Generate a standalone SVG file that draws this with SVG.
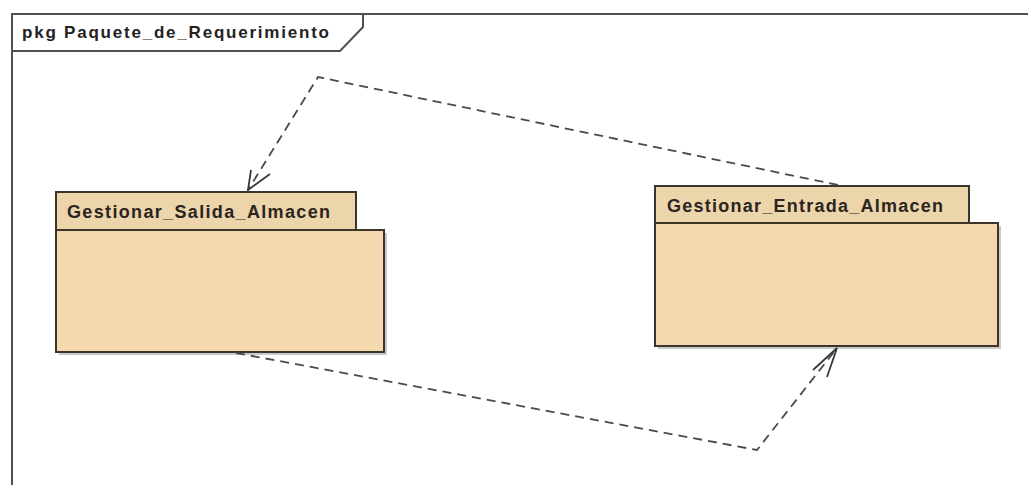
<svg xmlns="http://www.w3.org/2000/svg" width="1028" height="485" viewBox="0 0 1028 485">
  <style>
    .frame { fill: none; stroke: #505050; stroke-width: 2; }
    .title { font-family: "Liberation Sans", Arial, sans-serif; font-size: 17px; font-weight: bold; fill: #222; }
    .tab { fill: #ecd4ab; stroke: #3c3428; stroke-width: 2; }
    .body { fill: #f3d9ad; stroke: #3c3428; stroke-width: 2; }
    .shadow { fill: #8a8a8a; opacity: 0.45; }
    .pkgname { font-family: "Liberation Sans", Arial, sans-serif; font-size: 18px; font-weight: bold; fill: #2a2520; }
    .dep { fill: none; stroke: #4a4a4a; stroke-width: 1.8; stroke-dasharray: 9 6; }
    .head { fill: none; stroke: #3a3a3a; stroke-width: 1.8; }
  </style>

  <rect width="1028" height="485" fill="#ffffff"/>

  <!-- package diagram frame -->
  <g id="frame">
    <path class="frame" d="M12,485 L12,14 L1028,14"/>
    <path class="frame" d="M12,51 L340,51 L363,27 L363,14"/>
    <text class="title" x="22" y="38" textLength="307" lengthAdjust="spacing">pkg Paquete_de_Requerimiento</text>
  </g>

  <!-- package: Gestionar_Salida_Almacen -->
  <g id="pkg-salida">
    <rect class="shadow" x="59" y="233" width="328" height="122"/>
    <rect class="tab" x="56" y="192" width="300" height="38"/>
    <rect class="body" x="56" y="230" width="328" height="122"/>
    <text class="pkgname" x="67" y="218" textLength="263" lengthAdjust="spacing">Gestionar_Salida_Almacen</text>
  </g>

  <!-- package: Gestionar_Entrada_Almacen -->
  <g id="pkg-entrada">
    <rect class="shadow" x="658" y="226" width="343" height="123"/>
    <rect class="tab" x="655" y="186" width="314" height="37"/>
    <rect class="body" x="655" y="223" width="343" height="123"/>
    <text class="pkgname" x="667" y="212" textLength="276" lengthAdjust="spacing">Gestionar_Entrada_Almacen</text>
  </g>

  <!-- dependencies -->
  <g id="connectors">
    <!-- Entrada -> Salida -->
    <polyline class="dep" points="838,185 318,77 248,190"/>
    <polyline class="head" points="270,174 248,190 251,170"/>
    <!-- Salida -> Entrada -->
    <polyline class="dep" points="236,353 757,450 837,348"/>
    <polyline class="head" points="813,370 837,348 827,377"/>
  </g>
</svg>
